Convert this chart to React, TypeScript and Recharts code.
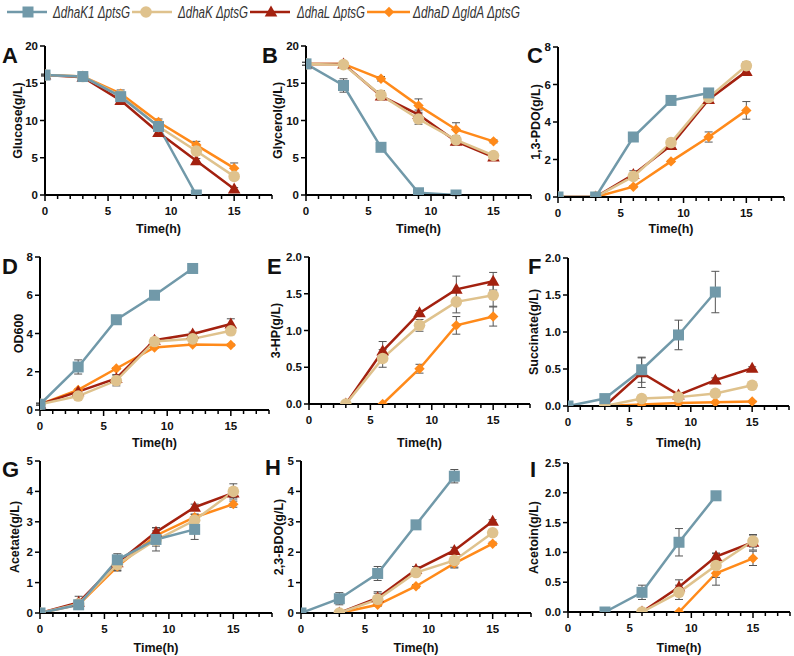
import { ComposedChart, Line, XAxis, YAxis, ErrorBar } from "recharts";

// ── Data (rows: ΔdhaK1, ΔdhaK, ΔdhaL, ΔdhaD ΔgldA; columns: time points) ──────

const times = [0, 3, 6, 9, 12, 15];
const strainNames = ["ΔdhaK1 ΔptsG", "ΔdhaK ΔptsG", "ΔdhaL ΔptsG", "ΔdhaD ΔgldA ΔptsG"];

const glucose = [
  [16.1, 15.9, 13.2, 9.2, 0, null],
  [16.1, 15.9, 13.3, 9.2, 5.9, 2.5],
  [16.1, 15.8, 12.7, 8.4, 4.6, 0.8],
  [16.1, 15.9, 13.6, 9.8, 6.7, 3.6],
];
const glucoseSd = [
  [0.1, 0.1, 0.4, 0.4, 0, null],
  [0.1, 0.2, 0.5, 0.4, 0.4, 0.3],
  [0.1, 0.2, 0.5, 0.4, 0.3, 0.2],
  [0.1, 0.1, 0.5, 0.4, 0.5, 0.7],
];

const glycerol = [
  [17.6, 14.7, 6.4, 0.3, 0, null],
  [17.6, 17.5, 13.4, 10.2, 7.4, 5.3],
  [17.6, 17.6, 13.3, 10.8, 7.2, 5.1],
  [17.6, 17.6, 15.6, 12.0, 8.8, 7.2],
];
const glycerolSd = [
  [0.2, 0.9, 0.4, 0.3, 0.1, null],
  [0.2, 0.3, 0.6, 0.7, 0.5, 0.3],
  [0.2, 0.3, 0.5, 0.6, 0.5, 0.3],
  [0.2, 0.2, 0.3, 0.9, 0.9, 0.2],
];

const pdo = [
  [0, 0, 3.2, 5.15, 5.55, null],
  [0, 0, 1.1, 2.9, 5.3, 7.0],
  [0, 0, 1.2, 2.75, 5.2, 6.7],
  [0, 0, 0.55, 1.9, 3.2, 4.62],
];
const pdoSd = [
  [0, 0, 0.05, 0.05, 0.05, null],
  [0, 0, 0.15, 0.2, 0.15, 0.2],
  [0, 0, 0.2, 0.2, 0.15, 0.15],
  [0, 0, 0.05, 0.05, 0.27, 0.47],
];

const od600 = [
  [0.3, 2.25, 4.72, 6.0, 7.4, null],
  [0.3, 0.73, 1.54, 3.58, 3.72, 4.14],
  [0.3, 0.96, 1.65, 3.65, 3.97, 4.5],
  [0.3, 1.05, 2.17, 3.27, 3.42, 3.4],
];
const od600Sd = [
  [0.05, 0.37, 0.1, 0.05, 0.05, null],
  [0.05, 0.1, 0.28, 0.1, 0.1, 0.2],
  [0.05, 0.1, 0.2, 0.1, 0.1, 0.27],
  [0.05, 0.05, 0.05, 0.05, 0.05, 0.05],
];

const hp = [
  [null, null, null, null, null, null],
  [null, 0, 0.62, 1.07, 1.39, 1.48],
  [null, 0, 0.72, 1.24, 1.56, 1.67],
  [null, null, 0, 0.48, 1.07, 1.19],
];
const hpSd = [
  [null, null, null, null, null, null],
  [null, 0, 0.12, 0.08, 0.15, 0.15],
  [null, 0, 0.13, 0.03, 0.18, 0.12],
  [null, null, 0, 0.06, 0.12, 0.13],
];

const succinate = [
  [0, 0.1, 0.49, 0.96, 1.54, null],
  [null, 0, 0.1, 0.12, 0.17, 0.28],
  [null, 0, 0.45, 0.15, 0.35, 0.51],
  [null, 0, 0.02, 0.04, 0.05, 0.06],
];
const succinateSd = [
  [0, 0.03, 0.17, 0.2, 0.28, null],
  [null, 0, 0.02, 0.02, 0.02, 0.02],
  [null, 0, 0.2, 0.02, 0.03, 0.02],
  [null, 0, 0.01, 0.01, 0.01, 0.01],
];

const acetate = [
  [0, 0.27, 1.75, 2.42, 2.75, null],
  [0, 0.3, 1.6, 2.4, 3.05, 4.0],
  [0, 0.35, 1.65, 2.66, 3.48, 3.95],
  [0, 0.28, 1.53, 2.55, 3.15, 3.58],
];
const acetateSd = [
  [0, 0.05, 0.2, 0.38, 0.33, null],
  [0, 0.1, 0.2, 0.2, 0.2, 0.25],
  [0, 0.2, 0.2, 0.15, 0.1, 0.15],
  [0, 0.05, 0.15, 0.15, 0.1, 0.1],
];

const bdo = [
  [0, 0.47, 1.3, 2.9, 4.5, null],
  [null, 0, 0.45, 1.33, 1.73, 2.64],
  [null, 0, 0.5, 1.43, 2.06, 3.02],
  [null, 0, 0.27, 0.88, 1.63, 2.28],
];
const bdoSd = [
  [0, 0.2, 0.23, 0.1, 0.22, null],
  [null, 0, 0.2, 0.1, 0.22, 0.1],
  [null, 0, 0.2, 0.1, 0.1, 0.05],
  [null, 0, 0.05, 0.05, 0.15, 0.05],
];

const acetoin = [
  [null, 0, 0.33, 1.17, 1.95, null],
  [null, null, 0, 0.33, 0.78, 1.19],
  [null, null, 0, 0.42, 0.93, 1.17],
  [null, null, null, 0, 0.65, 0.9],
];
const acetoinSd = [
  [null, 0, 0.12, 0.23, 0.06, null],
  [null, null, 0, 0.12, 0.2, 0.1],
  [null, null, 0, 0.12, 0.06, 0.13],
  [null, null, null, 0, 0.2, 0.12],
];

const xTicks = [0, 1, 2, 3, 4, 5, 6, 7, 8, 9, 10, 11, 12, 13, 14, 15, 16, 17, 18];

// ── Styling ───────────────────────────────────────────────────────────────────

const FONT = "'Liberation Sans', Arial, sans-serif";
const COLORS = ["#7199a9", "#dfc28d", "#a3210f", "#ff8a1a"];
const SHAPES = ["square", "circle", "triangle", "diamond"];
const DRAW_ORDER = [3, 2, 1, 0];

type PanelCfg = {
  letter: string;
  title: string;
  vals: (number | null)[][];
  sd: (number | null)[][];
  yMax: number;
  yTicks: number[];
  digits: number;
  left: number;
  top: number;
  bottom: number;
  right: number;
  letterX: number;
  letterY: number;
  titleX: number;
  timeY: number;
};

const panels: PanelCfg[] = [
  { letter: "A", title: "Glucose(g/L)", vals: glucose, sd: glucoseSd, yMax: 20, yTicks: [0, 5, 10, 15, 20], digits: 0,
    left: 45, top: 46, bottom: 195, right: 272, letterX: 2, letterY: 63, titleX: 18, timeY: 233 },
  { letter: "B", title: "Glycerol(g/L)", vals: glycerol, sd: glycerolSd, yMax: 20, yTicks: [0, 5, 10, 15, 20], digits: 0,
    left: 306, top: 46, bottom: 195, right: 531, letterX: 262, letterY: 63, titleX: 278, timeY: 233 },
  { letter: "C", title: "1,3-PDO(g/L)", vals: pdo, sd: pdoSd, yMax: 8, yTicks: [0, 2, 4, 6, 8], digits: 0,
    left: 558, top: 47, bottom: 197, right: 784, letterX: 527, letterY: 63, titleX: 536, timeY: 233 },
  { letter: "D", title: "OD600", vals: od600, sd: od600Sd, yMax: 8, yTicks: [0, 2, 4, 6, 8], digits: 0,
    left: 40, top: 257, bottom: 410, right: 269, letterX: 2, letterY: 274, titleX: 19, timeY: 447 },
  { letter: "E", title: "3-HP(g/L)", vals: hp, sd: hpSd, yMax: 2, yTicks: [0, 0.5, 1, 1.5, 2], digits: 1,
    left: 309, top: 257, bottom: 404, right: 530, letterX: 267, letterY: 274, titleX: 276, timeY: 447 },
  { letter: "F", title: "Succinate(g/L)", vals: succinate, sd: succinateSd, yMax: 2, yTicks: [0, 0.5, 1, 1.5, 2], digits: 1,
    left: 568, top: 258, bottom: 406, right: 789, letterX: 528, letterY: 274, titleX: 534, timeY: 447 },
  { letter: "G", title: "Acetate(g/L)", vals: acetate, sd: acetateSd, yMax: 5, yTicks: [0, 1, 2, 3, 4, 5], digits: 0,
    left: 40, top: 461, bottom: 613, right: 272, letterX: 2, letterY: 477, titleX: 15, timeY: 652 },
  { letter: "H", title: "2,3-BDO(g/L)", vals: bdo, sd: bdoSd, yMax: 5, yTicks: [0, 1, 2, 3, 4, 5], digits: 0,
    left: 301, top: 461, bottom: 613, right: 531, letterX: 265, letterY: 475, titleX: 279, timeY: 652 },
  { letter: "I", title: "Acetoin(g/L)", vals: acetoin, sd: acetoinSd, yMax: 2.5, yTicks: [0, 0.5, 1, 1.5, 2, 2.5], digits: 1,
    left: 568, top: 463, bottom: 612, right: 790, letterX: 530, letterY: 477, titleX: 534, timeY: 652 },
];

// ── Markers & ticks ───────────────────────────────────────────────────────────

function Marker({ shape, color, cx, cy }: { shape: string; color: string; cx: number; cy: number }) {
  if (shape === "square") return <rect x={cx - 5.5} y={cy - 5.5} width={11} height={11} fill={color} />;
  if (shape === "circle") return <circle cx={cx} cy={cy} r={5.8} fill={color} />;
  if (shape === "triangle")
    return <polygon points={`${cx},${cy - 6.5} ${cx - 6.3},${cy + 4.5} ${cx + 6.3},${cy + 4.5}`} fill={color} />;
  return <polygon points={`${cx},${cy - 5.2} ${cx + 5.2},${cy} ${cx},${cy + 5.2} ${cx - 5.2},${cy}`} fill={color} />;
}

function XTick(props: any) {
  const { x, y, payload } = props;
  const v = payload.value as number;
  const major = v % 5 === 0;
  return (
    <g>
      <line x1={x} x2={x} y1={y} y2={y + (major ? 6 : 4)} stroke="#000" strokeWidth={1.5} />
      {major && v <= 15 && (
        <text x={x} y={y + 20} textAnchor="middle" fontSize={11.5} fontWeight="bold" fontFamily={FONT} fill="#111">
          {v}
        </text>
      )}
    </g>
  );
}

function YTick(props: any) {
  const { x, y, payload, digits } = props;
  const v = payload.value as number;
  return (
    <g>
      <line x1={x - 5} x2={x} y1={y} y2={y} stroke="#000" strokeWidth={1.5} />
      <text x={x - 7} y={y + 4} textAnchor="end" fontSize={11.5} fontWeight="bold" fontFamily={FONT} fill="#111">
        {v.toFixed(digits)}
      </text>
    </g>
  );
}

// ── Panel ─────────────────────────────────────────────────────────────────────

function Panel({ cfg }: { cfg: PanelCfg }) {
  const YW = 40, TOP = 8, RIGHT = 4, XH = 30;
  const width = YW + (cfg.right - cfg.left) + RIGHT;
  const height = TOP + (cfg.bottom - cfg.top) + XH;
  const data = times.map((t, i) => {
    const row: Record<string, number | null> = { t };
    cfg.vals.forEach((s, k) => {
      row[`v${k}`] = s[i];
      row[`e${k}`] = s[i] == null ? null : cfg.sd[k][i];
    });
    return row;
  });

  return (
    <div style={{ position: "absolute", left: cfg.left - YW, top: cfg.top - TOP }}>
      <ComposedChart width={width} height={height} data={data} margin={{ top: TOP, right: RIGHT, left: 0, bottom: 0 }}>
        <XAxis
          dataKey="t"
          type="number"
          domain={[0, 18]}
          ticks={xTicks}
          interval={0}
          height={XH}
          tickSize={0}
          tickMargin={0}
          tickLine={false}
          tick={<XTick />}
          axisLine={{ stroke: "#000", strokeWidth: 2 }}
          allowDataOverflow
        />
        <YAxis
          type="number"
          domain={[0, cfg.yMax]}
          ticks={cfg.yTicks}
          interval={0}
          width={YW}
          tickSize={0}
          tickMargin={0}
          tickLine={false}
          tick={<YTick digits={cfg.digits} />}
          axisLine={{ stroke: "#000", strokeWidth: 2 }}
          allowDataOverflow
        />
        {DRAW_ORDER.filter(k => cfg.vals[k].some(v => v != null)).map(k => (
          <Line
            key={k}
            dataKey={`v${k}`}
            stroke={COLORS[k]}
            strokeWidth={2.5}
            isAnimationActive={false}
            connectNulls={false}
            dot={(p: any) =>
              p.cx == null || p.cy == null || p.value == null ? (
                <g key={`d${k}-${p.index}`} />
              ) : (
                <Marker key={`d${k}-${p.index}`} shape={SHAPES[k]} color={COLORS[k]} cx={p.cx} cy={p.cy} />
              )
            }
            activeDot={false}
          >
            <ErrorBar dataKey={`e${k}`} width={4} stroke="#555" strokeWidth={1} direction="y" />
          </Line>
        ))}
      </ComposedChart>
    </div>
  );
}

// ── Legend ────────────────────────────────────────────────────────────────────

const legendLayout = [
  { x1: 7, x2: 47, mx: 28, tx: 53, tw: 77 },
  { x1: 132, x2: 172, mx: 146, tx: 178, tw: 70 },
  { x1: 250, x2: 290, mx: 271, tx: 297, tw: 68 },
  { x1: 367, x2: 410, mx: 389, tx: 413, tw: 107 },
];

export default function App() {
  return (
    <div style={{ position: "absolute", left: 0, top: 0, width: 794, height: 656, background: "#fff", overflow: "hidden" }}>
      {panels.map(p => (
        <Panel key={p.letter} cfg={p} />
      ))}
      <svg width={794} height={656} style={{ position: "absolute", left: 0, top: 0, pointerEvents: "none" }}>
        {strainNames.map((name, k) => {
          const L = legendLayout[k];
          return (
            <g key={name}>
              <line x1={L.x1} x2={L.x2} y1={12} y2={12} stroke={COLORS[k]} strokeWidth={2.5} />
              <Marker shape={SHAPES[k]} color={COLORS[k]} cx={L.mx} cy={12} />
              <text
                x={L.tx}
                y={18}
                fontSize={16}
                fontStyle="italic"
                fontFamily={FONT}
                fill="#333"
                textLength={L.tw}
                lengthAdjust="spacingAndGlyphs"
              >
                {name}
              </text>
            </g>
          );
        })}
        {panels.map(p => (
          <g key={p.letter}>
            <text x={p.letterX} y={p.letterY} fontSize={22} fontWeight="bold" fontFamily={FONT} fill="#111">
              {p.letter}
            </text>
            <text
              transform={`translate(${p.titleX},${(p.top + p.bottom) / 2}) rotate(-90)`}
              textAnchor="middle"
              dy="0.35em"
              fontSize={12.5}
              fontWeight="bold"
              fontFamily={FONT}
              fill="#111"
            >
              {p.title}
            </text>
            <text
              x={(p.left + p.right) / 2}
              y={p.timeY}
              textAnchor="middle"
              fontSize={12.5}
              fontWeight="bold"
              fontFamily={FONT}
              fill="#111"
            >
              Time(h)
            </text>
          </g>
        ))}
      </svg>
    </div>
  );
}
